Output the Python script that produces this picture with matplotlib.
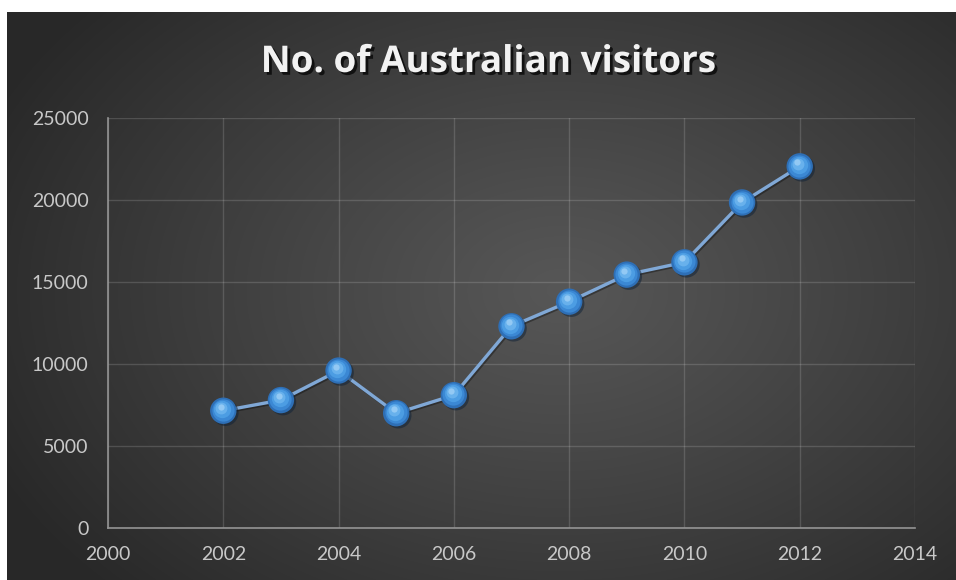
import numpy as np
import matplotlib
matplotlib.use("Agg")
import matplotlib.pyplot as plt
import matplotlib.patheffects as pe
from matplotlib.transforms import offset_copy

years = [2002, 2003, 2004, 2005, 2006, 2007, 2008, 2009, 2010, 2011, 2012]
visitors = [7150, 7800, 9600, 7000, 8100, 12300, 13800, 15450, 16200, 19850, 22050]
title = "No. of Australian visitors"
x_ticks = [2000, 2002, 2004, 2006, 2008, 2010, 2012, 2014]
y_ticks = [0, 5000, 10000, 15000, 20000, 25000]

W, H = 956, 580
fig = plt.figure(figsize=(W / 100, H / 100), dpi=100)
fig.patch.set_facecolor("white")

# background radial gradient panel
bg = fig.add_axes([7 / W, 0, (W - 7) / W, (H - 12) / H])
bg.set_axis_off()
ny, nx = 568, 949
yy, xx = np.mgrid[0:ny, 0:nx]
cx, cy = 560 - 7, 290 - 12
r = np.sqrt(((xx - cx) / 620) ** 2 + ((yy - cy) / 430) ** 2)
r = np.clip(r, 0, 1)
inner, outer = 0.34, 0.16
val = inner + (outer - inner) * r ** 1.1
img = np.dstack([val, val, val])
bg.imshow(img, aspect="auto", extent=[0, 1, 0, 1], origin="upper")
bg.set_xlim(0, 1)
bg.set_ylim(0, 1)

ax = fig.add_axes([108 / W, (H - 528) / H, (915 - 108) / W, (528 - 118) / H])
ax.set_facecolor("none")
ax.set_xlim(2000, 2014)
ax.set_ylim(0, 25000)
ax.set_xticks(x_ticks)
ax.set_yticks(y_ticks)
ax.set_xticklabels([str(v) for v in x_ticks])
ax.set_yticklabels([str(v) for v in y_ticks])
ax.grid(True, color="#ffffff", alpha=0.15, linewidth=1)
for s in ["top", "right"]:
    ax.spines[s].set_visible(False)
for s in ["left", "bottom"]:
    ax.spines[s].set_color("#949494")
    ax.spines[s].set_linewidth(1.2)
ax.tick_params(axis="both", length=0, labelsize=14, labelcolor="#c8c8c8")
ax.tick_params(axis="x", pad=13)
ax.tick_params(axis="y", pad=14)
for lab in ax.get_xticklabels() + ax.get_yticklabels():
    lab.set_fontfamily("Lato")

ax.plot(years, visitors, color="#80a8d6", linewidth=2.4, zorder=3,
        path_effects=[pe.SimpleLineShadow(offset=(1, -1), alpha=0.35), pe.Normal()])
# layered markers to mimic 3-D sphere
ax.plot(years, visitors, linestyle="none", marker="o", markersize=19,
        markerfacecolor="#2e6fb6", markeredgecolor="none", zorder=4,
        path_effects=[pe.SimplePatchShadow(offset=(1.5, -1.5), alpha=0.5), pe.Normal()])
layers = [(16, "#3b88d4", -0.4, 0.6, 1.0),
          (12.5, "#4c9de3", -0.8, 1.2, 1.0),
          (8.5, "#6cb4ee", -1.3, 2.0, 0.9),
          (4.5, "#9fd0f7", -1.7, 2.8, 0.8)]
for ms, col, dx, dy, a in layers:
    ax.plot(years, visitors, linestyle="none", marker="o", markersize=ms,
            markerfacecolor=col, markeredgecolor="none", zorder=5, alpha=a,
            transform=offset_copy(ax.transData, fig=fig, x=dx, y=dy, units="points"))

fig.text(488 / W, 1 - 62 / H, title, ha="center", va="center", fontsize=26.5,
         fontweight="bold", fontfamily="Open Sans", color="#f2f2f2",
         path_effects=[pe.SimplePatchShadow(offset=(2, -2), alpha=0.7, shadow_rgbFace="black"), pe.Normal()])

fig.savefig("out.png", dpi=100, facecolor=fig.get_facecolor())
